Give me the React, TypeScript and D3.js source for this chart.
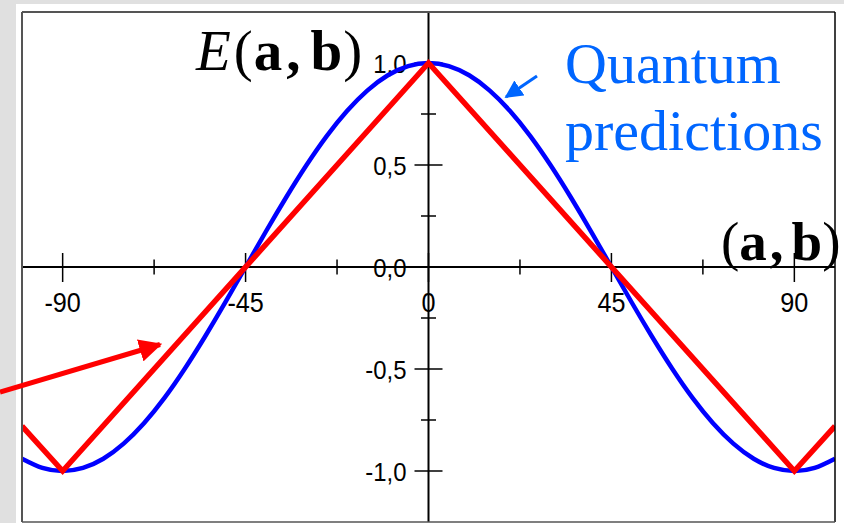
import React from "react";
import * as d3 from "d3";

const W = 844;
const H = 523;

// Quantum prediction E = cos(2θ), sampled every 5°
const quantumAngles = [-100, -95, -90, -85, -80, -75, -70, -65, -60, -55, -50, -45, -40, -35, -30, -25, -20, -15, -10, -5, 0, 5, 10, 15, 20, 25, 30, 35, 40, 45, 50, 55, 60, 65, 70, 75, 80, 85, 90, 95, 100];
const quantumValues = [-0.94, -0.985, -1, -0.985, -0.94, -0.866, -0.766, -0.643, -0.5, -0.342, -0.174, 0, 0.174, 0.342, 0.5, 0.643, 0.766, 0.866, 0.94, 0.985, 1, 0.985, 0.94, 0.866, 0.766, 0.643, 0.5, 0.342, 0.174, 0, -0.174, -0.342, -0.5, -0.643, -0.766, -0.866, -0.94, -0.985, -1, -0.985, -0.94];

// Classical (linear) correlation
const classicalAngles = [-100, -90, 0, 90, 100];
const classicalValues = [-0.78, -1, 1, -1, -0.78];

const xMajorTicks = [-90, -45, 0, 45, 90];
const xMinorTicks = [-67.5, -22.5, 22.5, 67.5];
const yMajorTicks = [1, 0.5, 0, -0.5, -1];
const yMajorLabels = ["1,0", "0,5", "0,0", "-0,5", "-1,0"];
const yMinorTicks = [0.75, 0.25, -0.25, -0.75];

export default function App() {
  const left = 22, right = 835, top = 12, bottom = 522;
  const x = d3.scaleLinear().domain([-100, 100]).range([left, right]);
  const y = d3.scaleLinear().domain([-1.25, 1.25]).range([bottom, top]);
  const x0 = x(0);
  const y0 = y(0);

  const qLine = d3
    .line<number>()
    .x((_, i) => x(quantumAngles[i]))
    .y((d) => y(d))
    .curve(d3.curveNatural)(quantumValues) as string;

  const cLine = d3
    .line<number>()
    .x((_, i) => x(classicalAngles[i]))
    .y((d) => y(d))(classicalValues) as string;

  const blue = "#0066ff";
  const tickFont = "'Liberation Sans', Arial, sans-serif";
  const serif = "'Liberation Serif', 'Times New Roman', serif";

  return (
    <svg
      width={W}
      height={H}
      style={{ position: "absolute", left: 0, top: 0 }}
      xmlns="http://www.w3.org/2000/svg"
    >
      <defs>
        <clipPath id="plotClip">
          <rect x={left} y={top} width={right - left} height={bottom - top} />
        </clipPath>
        <marker id="redHead" viewBox="0 0 10 10" refX="9" refY="5" markerWidth="4.6" markerHeight="4.6" orient="auto" markerUnits="strokeWidth">
          <path d="M0,0 L10,5 L0,10 z" fill="#ff0000" />
        </marker>
        <marker id="blueHead" viewBox="0 0 10 10" refX="9" refY="5" markerWidth="6" markerHeight="6" orient="auto" markerUnits="strokeWidth">
          <path d="M0,0 L10,5 L0,10 z" fill={blue} />
        </marker>
      </defs>
      <rect x={0} y={0} width={W} height={H} fill="#e0e0e0" />
      <rect x={16} y={4} width={W - 16} height={H - 4} fill="#ffffff" />

      {/* axes */}
      <line x1={left} x2={right} y1={y0} y2={y0} stroke="#000" strokeWidth={2} />
      <line x1={x0} x2={x0} y1={top} y2={bottom} stroke="#000" strokeWidth={2} />
      {xMajorTicks.map((t) => (
        <line key={"xM" + t} x1={x(t)} x2={x(t)} y1={y0 - 14} y2={y0 + 15} stroke="#000" strokeWidth={1.5} />
      ))}
      {xMinorTicks.map((t) => (
        <line key={"xm" + t} x1={x(t)} x2={x(t)} y1={y0 - 7.5} y2={y0 + 7.5} stroke="#000" strokeWidth={1.5} />
      ))}
      {yMajorTicks.map((t) => (
        <line key={"yM" + t} x1={x0 - 14} x2={x0 + 14} y1={y(t)} y2={y(t)} stroke="#000" strokeWidth={1.5} />
      ))}
      {yMinorTicks.map((t) => (
        <line key={"ym" + t} x1={x0 - 7.5} x2={x0 + 7.5} y1={y(t)} y2={y(t)} stroke="#000" strokeWidth={1.5} />
      ))}
      {xMajorTicks.map((t) => (
        <text key={"xl" + t} transform={`translate(${x(t)},311.5) scale(0.9,1)`} textAnchor="middle" fontFamily={tickFont} fontSize={28} fill="#000">
          {String(t)}
        </text>
      ))}
      {yMajorTicks.map((t, i) => (
        <text key={"yl" + t} transform={`translate(${x0 - 22},${y(t) + 9.5}) scale(0.92,1)`} textAnchor="end" fontFamily={tickFont} fontSize={26} fill="#000">
          {yMajorLabels[i]}
        </text>
      ))}

      <g clipPath="url(#plotClip)">
        <path d={qLine} fill="none" stroke="#0000ff" strokeWidth={4.5} />
        <path d={cLine} fill="none" stroke="#ff0000" strokeWidth={5.5} />
      </g>

      {/* border */}
      <line x1={left} x2={left} y1={top} y2={bottom} stroke="#555" strokeWidth={2} />
      <line x1={left} x2={right} y1={top} y2={top} stroke="#555" strokeWidth={2} />
      <line x1={right} x2={right} y1={top} y2={bottom} stroke="#000" strokeWidth={1.5} />
      <line x1={left} x2={right} y1={bottom} y2={bottom} stroke="#555" strokeWidth={1.5} />

      {/* annotations */}
      <text x={196} y={70} fontFamily={serif} fontSize={57} fill="#000">
        <tspan fontStyle="italic">E</tspan>
        <tspan dx={3}>(</tspan>
        <tspan fontWeight="bold" dx={1}>a</tspan>
        <tspan fontWeight="bold" dx={4}>,</tspan>
        <tspan fontWeight="bold" dx={10}>b</tspan>
        <tspan dx={1}>)</tspan>
      </text>
      <text x={721} y={260} fontFamily={serif} fontSize={55} fill="#000">
        <tspan>(</tspan>
        <tspan fontWeight="bold">a</tspan>
        <tspan fontWeight="bold" dx={3}>,</tspan>
        <tspan fontWeight="bold" dx={8}>b</tspan>
        <tspan>)</tspan>
      </text>
      <text x={565} y={83} fontFamily={serif} fontSize={58} fill={blue}>
        Quantum
      </text>
      <text x={565} y={150} fontFamily={serif} fontSize={58} fill={blue}>
        predictions
      </text>
      <line x1={537} y1={76} x2={506} y2={97} stroke={blue} strokeWidth={3} markerEnd="url(#blueHead)" />
      <line x1={0} y1={392} x2={160} y2={344.5} stroke="#ff0000" strokeWidth={5} markerEnd="url(#redHead)" />
    </svg>
  );
}
